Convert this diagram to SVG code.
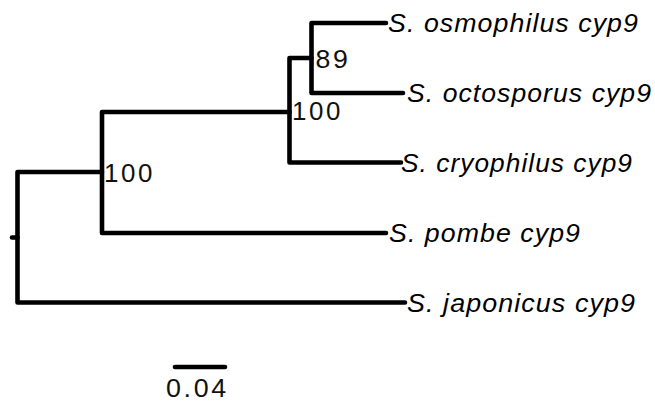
<svg xmlns="http://www.w3.org/2000/svg" width="655" height="405" viewBox="0 0 655 405">
<style>
.br{fill:none;stroke:#000;stroke-width:4.6;stroke-linecap:round;stroke-linejoin:round}
.tip{font-family:"Liberation Sans",Arial,sans-serif;font-size:25px;font-style:italic;letter-spacing:1px;fill:#000}
.sup{font-family:"Liberation Sans",Arial,sans-serif;font-size:25px;letter-spacing:2.5px;fill:#111}
</style>
<rect width="655" height="405" fill="#fff"/>
<g id="connectors">
<path class="br" d="M12,237.5 H17.5"/>
<path class="br" d="M102,172 H17.5 V302.5 H405"/>
<path class="br" d="M289.5,112 H102 V233 H386"/>
<path class="br" d="M311.5,58 H289.5 V162.5 H401"/>
<path class="br" d="M386,23 H311.5 V93 H403"/>
</g>
<g id="node_root"/>
<g id="node_A"><text class="sup" x="104" y="181.5" textLength="51" lengthAdjust="spacingAndGlyphs">100</text></g>
<g id="node_B"><text class="sup" x="292" y="119.5" textLength="51" lengthAdjust="spacingAndGlyphs">100</text></g>
<g id="node_C"><text class="sup" x="315.5" y="67.5" textLength="35" lengthAdjust="spacingAndGlyphs">89</text></g>
<g id="leaf_osmophilus"><text class="tip" x="388" y="32" textLength="251" lengthAdjust="spacingAndGlyphs">S. osmophilus cyp9</text></g>
<g id="leaf_octosporus"><text class="tip" x="407" y="102" textLength="245" lengthAdjust="spacingAndGlyphs">S. octosporus cyp9</text></g>
<g id="leaf_cryophilus"><text class="tip" x="401" y="171.5" textLength="232" lengthAdjust="spacingAndGlyphs">S. cryophilus cyp9</text></g>
<g id="leaf_pombe"><text class="tip" x="389" y="242" textLength="192" lengthAdjust="spacingAndGlyphs">S. pombe cyp9</text></g>
<g id="leaf_japonicus"><text class="tip" x="407" y="311.5" textLength="229" lengthAdjust="spacingAndGlyphs">S. japonicus cyp9</text></g>
<g id="scale_bar">
<path class="br" d="M175,367 H225"/>
<text class="sup" x="166" y="397" textLength="63" lengthAdjust="spacingAndGlyphs">0.04</text>
</g>
</svg>
